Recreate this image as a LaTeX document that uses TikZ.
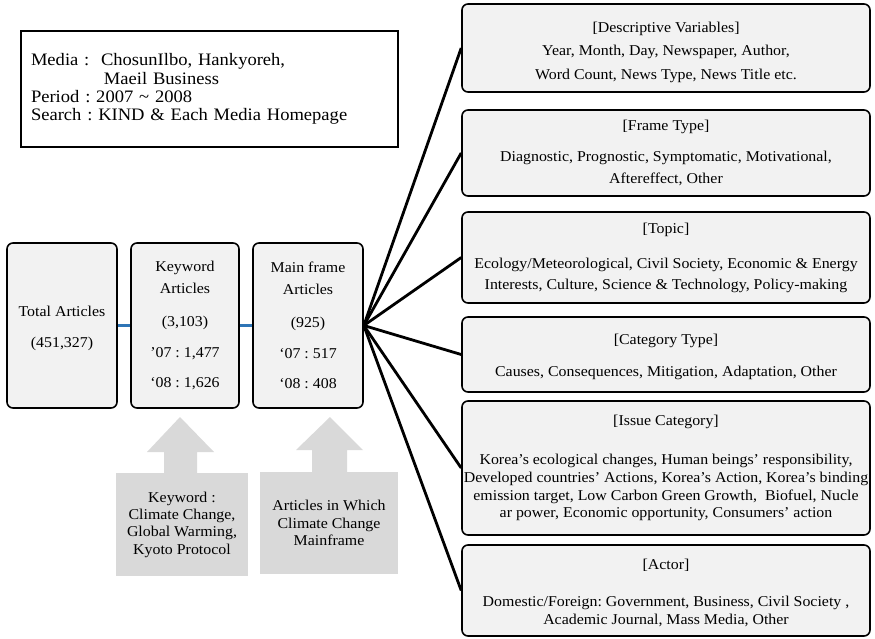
\documentclass[tikz,border=0pt]{standalone}
\usepackage{fontspec}
\setmainfont[FakeStretch=1.06]{Liberation Serif}
\definecolor{boxgrey}{HTML}{F2F2F2}
\definecolor{arrowgrey}{HTML}{D9D9D9}
\definecolor{linkblue}{HTML}{2E75B6}
\frenchspacing

\begin{document}
\begin{tikzpicture}[x=1pt,y=-1pt,
  rbox/.style={draw, line width=1.6pt, rounded corners=6pt, fill=boxgrey,
    align=center, inner sep=0pt, font=\fontsize{15}{22}\selectfont},
  vbox/.style={rbox, minimum width=408pt},
  cbox/.style={rbox, minimum height=165pt},
  gbox/.style={fill=arrowgrey, align=center, inner sep=0pt,
    font=\fontsize{15}{17.3}\selectfont},
  link/.style={draw=linkblue, line width=3pt},
  spoke/.style={draw, line width=2.8pt}]
\useasboundingbox (0,0) rectangle (875,638);

% info
\node[draw, line width=2pt, minimum width=377pt, minimum height=116pt,
  text width=357pt, inner xsep=10pt, align=left,
  font=\fontsize{17.5}{18.3}\selectfont] (info) at (209.5,89)
  {Media :\ \ ChosunIlbo, Hankyoreh,\\
   \hphantom{Media :\ \ \,}Maeil Business\\
   Period : 2007 \textasciitilde\ 2008\\
   Search : KIND \& Each Media Homepage};

% article counts
\node[cbox, minimum width=110pt] (tot) at (62,325.5)
  {\rule{0pt}{17pt}Total Articles\\[9pt] (451,327)};
\node[cbox, minimum width=108pt] (kw) at (185,325.5)
  {Keyword\\ Articles\\[11pt] (3,103)\\[9pt] ’07 : 1,477\\[8pt] ‘08 : 1,626};
\node[cbox, minimum width=110pt] (mf) at (308,325.5)
  {Main frame\\ Articles\\[11pt] (925)\\[9pt] ‘07 : 517\\[8pt] ‘08 : 408};
\draw[link] (tot) -- (kw);
\draw[link] (kw) -- (mf);

% variables
\node[vbox, minimum height=88pt, font=\fontsize{15}{23.5}\selectfont] (v1) at (666,48)
  {\rule{0pt}{19pt}[Descriptive Variables]\\ Year, Month, Day, Newspaper, Author,\\
   Word Count, News Type, News Title etc.};
\node[vbox, minimum height=86pt, font=\fontsize{15}{21.5}\selectfont] (v2) at (666,153)
  {[Frame Type]\\[9.5pt] Diagnostic, Prognostic, Symptomatic, Motivational,\\
   Aftereffect, Other};
\node[vbox, minimum height=91pt, font=\fontsize{15}{21}\selectfont] (v3) at (666,257.5)
  {[Topic]\\[14pt] Ecology/Meteorological, Civil Society, Economic \& Energy\\
   Interests, Culture, Science \& Technology, Policy-making};
\node[vbox, minimum height=75pt, font=\fontsize{15}{21}\selectfont] (v4) at (666,354.5)
  {\rule{0pt}{16pt}[Category Type]\\[11pt] Causes, Consequences, Mitigation, Adaptation, Other};
\node[vbox, minimum height=134pt, font=\fontsize{15}{17.7}\selectfont] (v5) at (666,468)
  {[Issue Category]\\[22pt] Korea’s ecological changes, Human beings’ responsibility,\\
   Developed countries’ Actions, Korea’s Action, Korea’s binding\\
   emission target, Low Carbon Green Growth,\ \ Biofuel, Nucle\\
   ar power, Economic opportunity, Consumers’ action};
\node[vbox, minimum height=91pt, font=\fontsize{15}{18}\selectfont] (v6) at (666,590.5)
  {\rule{0pt}{16pt}[Actor]\\[19pt] Domestic/Foreign: Government, Business, Civil Society ,\\
   Academic Journal, Mass Media, Other};
\foreach \v in {v1,v2,v3,v4,v5,v6}
  \draw[spoke] (mf.east) -- (\v.west);

% search criteria
\fill[arrowgrey] (180,417) -- (214,452) -- (197,452) -- (197,474) -- (164,474)
  -- (164,452) -- (147,452) -- cycle;
\fill[arrowgrey] (330,417) -- (363,450) -- (347,450) -- (347,473) -- (312,473)
  -- (312,450) -- (296,450) -- cycle;
\node[gbox, minimum width=132pt, minimum height=103pt] (kb) at (182,524.5)
  {Keyword :\\ Climate Change,\\ Global Warming,\\ Kyoto Protocol};
\node[gbox, minimum width=138pt, minimum height=102pt] (mb) at (329,523)
  {Articles in Which\\ Climate Change\\ Mainframe};
\end{tikzpicture}
\end{document}
